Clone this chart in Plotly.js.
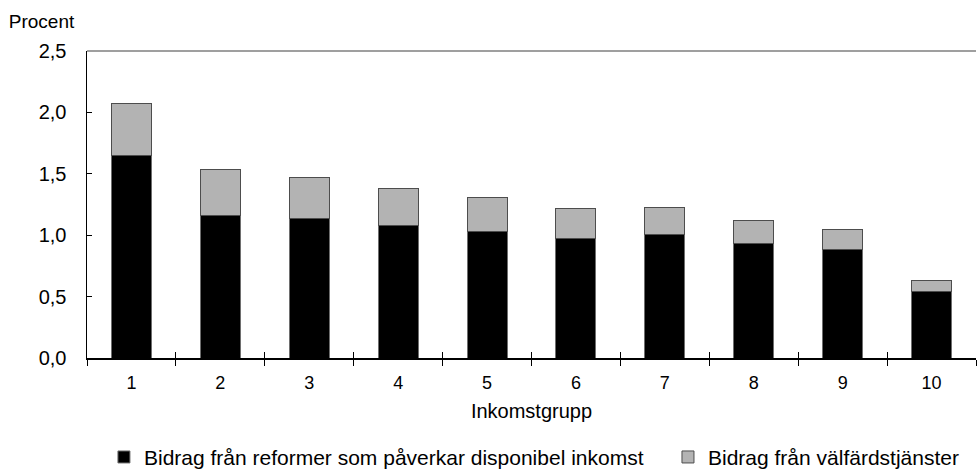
<!DOCTYPE html>
<html>
<head>
<meta charset="utf-8">
<script src="https://cdn.plot.ly/plotly-3.0.1.min.js"></script>
<style>html,body{margin:0;padding:0;background:#fff;}#chart{width:977px;height:470px;}</style>
</head>
<body>
<div id="chart"></div>
<script>
const categories = ['1','2','3','4','5','6','7','8','9','10'];
const reformer = [1.645, 1.163, 1.133, 1.082, 1.031, 0.971, 1.003, 0.930, 0.887, 0.541];
const valfard  = [0.425, 0.374, 0.339, 0.298, 0.276, 0.247, 0.219, 0.190, 0.160, 0.092];
const seriesNames = ['Bidrag från reformer som påverkar disponibel inkomst', 'Bidrag från välfärdstjänster'];
const yTicks = [0, 0.5, 1.0, 1.5, 2.0, 2.5];
const yTickText = ['0,0', '0,5', '1,0', '1,5', '2,0', '2,5'];

const FONT = 'Liberation Sans, Arial, sans-serif';

const traces = [
  {type:'bar', x:categories, y:reformer, name:seriesNames[0], legend:'legend',
   marker:{color:'#000000', line:{color:'#6e6e6e', width:1}}, hoverinfo:'x+y+name'},
  {type:'bar', x:categories, y:valfard, name:seriesNames[1], legend:'legend2',
   marker:{color:'#b3b3b3', line:{color:'#4d4d4d', width:1}}, hoverinfo:'x+y+name'},
  {type:'bar', x:categories, y:categories.map(()=>0), xaxis:'x2', yaxis:'y',
   showlegend:false, hoverinfo:'skip', marker:{color:'rgba(0,0,0,0)'}}
];

const legendBase = {orientation:'h', xref:'container', yref:'container', y:0.027, yanchor:'middle', xanchor:'left',
                    font:{size:21, color:'#000'}, itemwidth:30, bgcolor:'rgba(0,0,0,0)'};

const layout = {
  width:977, height:470,
  margin:{l:87, r:1, t:51, b:112},
  paper_bgcolor:'#fff', plot_bgcolor:'#fff',
  font:{family:FONT, size:18, color:'#000'},
  barmode:'stack', bargap:0.55,
  showlegend:true,
  title:{text:'Procent', x:0.009, xref:'container', xanchor:'left', y:0.955, yref:'container', yanchor:'middle', font:{size:19, color:'#000'}},
  xaxis:{type:'category', tickson:'boundaries', ticks:'outside', ticklen:6, tickcolor:'#000', tickwidth:1,
         showline:true, linecolor:'#000', linewidth:1.5, showgrid:false, zeroline:false,
         ticklabelstandoff:8, tickfont:{size:18},
         title:{text:'Inkomstgrupp', standoff:12, font:{size:20}}},
  xaxis2:{type:'category', overlaying:'x', matches:'x', anchor:'y', side:'bottom', tickson:'boundaries',
          ticks:'inside', ticklen:6, tickcolor:'#000', tickwidth:1, showticklabels:false,
          showline:false, showgrid:false, zeroline:false},
  yaxis:{range:[0,2.5], tickvals:yTicks, ticktext:yTickText, ticks:'inside', ticklen:5, tickcolor:'#000',
         showline:true, linecolor:'#000', linewidth:1.5, showgrid:false, zeroline:false,
         ticklabelstandoff:15, tickfont:{size:20}},
  legend:Object.assign({}, legendBase, {x:0.1064}),
  legend2:Object.assign({}, legendBase, {x:0.6837}),
  shapes:[{type:'line', xref:'paper', yref:'paper', x0:0, x1:1, y0:1, y1:1, line:{color:'#7f7f7f', width:1.5}}]
};

Plotly.newPlot('chart', traces, layout, {displayModeBar:false, staticPlot:true});
</script>
</body>
</html>
